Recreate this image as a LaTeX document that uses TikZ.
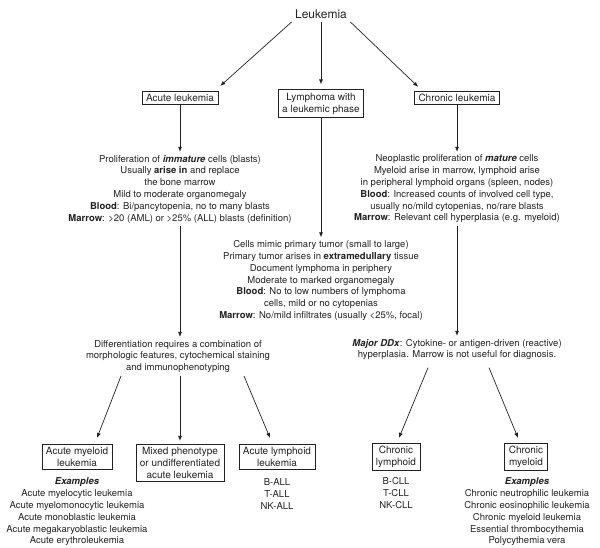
\documentclass[tikz,border=0pt]{standalone}
\usepackage{fontspec}
\setmainfont{TeX Gyre Heros}
\usetikzlibrary{arrows.meta,calc}
\definecolor{ink}{HTML}{222222}
\begin{document}
\begin{tikzpicture}[x=1pt,y=-1pt,
        box/.style={draw=ink,line width=0.7pt,align=center,text=ink,inner xsep=4pt,inner ysep=3pt,font=\fontsize{10}{12}\selectfont},
        info/.style={align=center,text=ink,inner sep=3pt,font=\fontsize{9.5}{11.8}\selectfont},
        arr/.style={draw=ink,line width=0.7pt,-{Latex[length=5pt,width=4pt]}}]
        \useasboundingbox (0,0) rectangle (600,547);
        \node[text=ink,font=\fontsize{12}{14}\selectfont] (leuk) at (321,14) {Leukemia};
        \node[box] (acute) at (180,98) {Acute leukemia};
        \node[box] (lymph) at (321,103.5) {Lymphoma with\\a leukemic phase};
        \node[box] (chronic) at (457,98) {Chronic leukemia};
        \node[info] (acutetxt) at (180,189) {Proliferation of \textbf{\textit{immature}} cells (blasts)\\
            Usually \textbf{arise in} and replace\\
            the bone marrow\\
            Mild to moderate organomegaly\\
            \textbf{Blood}: Bi/pancytopenia, no to many blasts\\
            \textbf{Marrow}: >20 (AML) or >25\% (ALL) blasts (definition)};
        \node[info] (lymphtxt) at (321,280.5) {Cells mimic primary tumor (small to large)\\
            Primary tumor arises in \textbf{extramedullary} tissue\\
            Document lymphoma in periphery\\
            Moderate to marked organomegaly\\
            \textbf{Blood}: No to low numbers of lymphoma\\
            cells, mild or no cytopenias\\
            \textbf{Marrow}: No/mild infiltrates (usually <25\%, focal)};
        \node[info] (chronictxt) at (457,189) {Neoplastic proliferation of \textbf{\textit{mature}} cells\\
            Myeloid arise in marrow, lymphoid arise\\
            in peripheral lymphoid organs (spleen, nodes)\\
            \textbf{Blood}: Increased counts of involved cell type,\\
            usually no/mild cytopenias, no/rare blasts\\
            \textbf{Marrow}: Relevant cell hyperplasia (e.g. myeloid)};
        \node[info] (diff) at (178,356.5) {Differentiation requires a combination of\\
            morphologic features, cytochemical staining\\
            and immunophenotyping};
        \node[info] (ddx) at (457,349.5) {\textbf{\textit{Major DDx}}: Cytokine- or antigen-driven (reactive)\\
            hyperplasia. Marrow is not useful for diagnosis.};
        \node[box] (aml) at (77,457) {Acute myeloid\\leukemia};
        \node[box] (mixed) at (180,463) {Mixed phenotype\\or undifferentiated\\acute leukemia};
        \node[box] (all) at (277,457) {Acute lymphoid\\leukemia};
        \node[box] (cll) at (396,457) {Chronic\\lymphoid};
        \node[box] (cml) at (526,457) {Chronic\\myeloid};
        \node[info] (amlex) at (77,512) {\textbf{\textit{Examples}}\\
            Acute myelocytic leukemia\\
            Acute myelomonocytic leukemia\\
            Acute monoblastic leukemia\\
            Acute megakaryoblastic leukemia\\
            Acute erythroleukemia};
        \node[info] (allex) at (277,494) {B-ALL\\T-ALL\\NK-ALL};
        \node[info] (cllex) at (396,493) {B-CLL\\T-CLL\\NK-CLL};
        \node[info] (cmlex) at (527,512) {\textbf{\textit{Examples}}\\
            Chronic neutrophilic leukemia\\
            Chronic eosinophilic leukemia\\
            Chronic myeloid leukemia\\
            Essential thrombocythemia\\
            Polycythemia vera};

        \draw[arr] (leuk.south west) -- ($(acute.north east)+(2,-5)$);
        \draw[arr] (leuk.south) -- ($(lymph.north)+(0,-5)$);
        \draw[arr] (leuk.south east) -- ($(chronic.north west)+(4,-4)$);
        \draw[arr] (acute) -- (acutetxt);
        \draw[arr] (lymph) -- (lymphtxt);
        \draw[arr] (chronic) -- (chronictxt);
        \draw[arr] (acutetxt.south) -- (acutetxt.south |- diff.north);
        \draw[arr] (chronictxt) -- (ddx);
        \draw[arr] ($(diff.south)+(-57,0)$) -- ($(aml.north)+(20,-6)$);
        \draw[arr] (diff.south -| mixed.north) -- ($(mixed.north)+(0,-3)$);
        \draw[arr] ($(diff.south)+(66,0)$) -- ($(all.north)+(-7,-6)$);
        \draw[arr] ($(ddx.south)+(-29,4.5)$) -- ($(cll.north)+(3,-5)$);
        \draw[arr] ($(ddx.south)+(32,4.5)$) -- ($(cml.north)+(-8,-5)$);
    \end{tikzpicture}
\end{document}
